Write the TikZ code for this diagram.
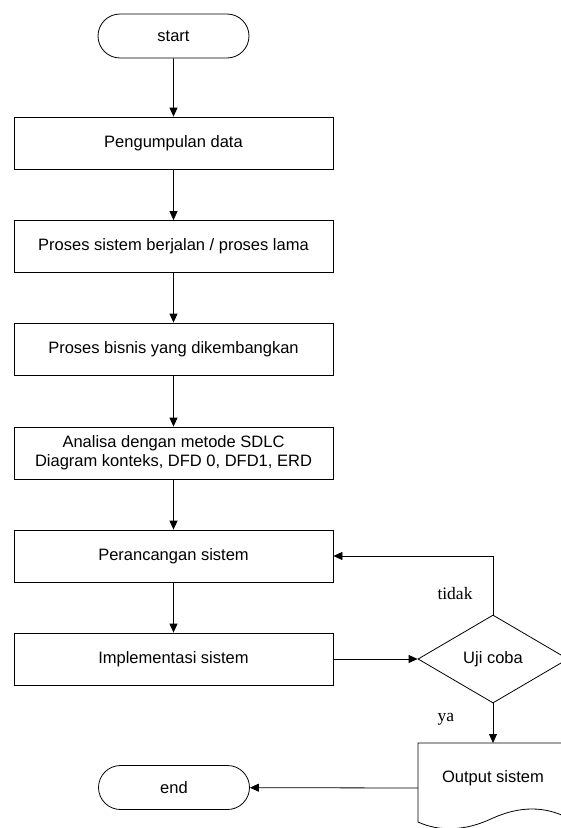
\documentclass[tikz,border=0pt]{standalone}
\usepackage{fontspec}
\setmainfont{Liberation Sans}
\newfontfamily\labelfont{Liberation Serif}
\usetikzlibrary{shapes.geometric,shapes.misc,arrows.meta}

\tikzset{
  flow/.style={draw=black, line width=0.8pt},
  procbox/.style={flow, rectangle, minimum width=319pt, minimum height=52pt,
                  inner sep=0pt, align=center, font=\fontsize{16.5}{19}\selectfont},
  terminal/.style={flow, rounded rectangle, minimum width=151pt, minimum height=44pt,
                   inner sep=0pt, font=\fontsize{16.5}{19}\selectfont},
  decision/.style={flow, diamond, minimum width=150pt, minimum height=88pt,
                   inner sep=0pt, font=\fontsize{16.5}{19}\selectfont},
  arrowline/.style={line width=0.8pt, -{Triangle[length=9pt,width=8pt]}},
  branchlabel/.style={font=\labelfont\fontsize{17.5}{20}\selectfont, inner sep=0pt},
}

\begin{document}
\begin{tikzpicture}[x=1pt, y=-1pt]
  \useasboundingbox (0,0) rectangle (561,828);
  \clip (0,0) rectangle (561,828);
  \fill[white] (0,0) rectangle (561,828);

  % main column
  \node[terminal] (start) at (173.5,36) {start};
  \node[procbox] (s1) at (173.5,143) {Pengumpulan data};
  \node[procbox] (s2) at (173.5,246.5) {Proses sistem berjalan / proses lama};
  \node[procbox] (s3) at (173.5,349) {Proses bisnis yang dikembangkan};
  \node[procbox] (s4) at (173.5,453) {Analisa dengan metode SDLC\\Diagram konteks, DFD 0, DFD1, ERD};
  \node[procbox] (s5) at (173.5,556) {Perancangan sistem};
  \node[procbox] (s6) at (173.5,659) {Implementasi sistem};

  % test decision
  \node[decision] (uji) at (493,659) {Uji coba};

  % output document
  \coordinate (outtop) at (493,743);
  \coordinate (outleft) at (418,788);
  \draw[flow] (418,743) -- (568,743) -- (568,818)
    .. controls (545,806) and (520,806) .. (493,818)
    .. controls (466,831) and (440,832) .. (418,822) -- cycle;
  \node[font=\fontsize{16.5}{19}\selectfont] (out) at (493,778) {Output sistem};

  % end terminal
  \node[terminal] (stop) at (174,787.5) {end};

  % connectors
  \draw[arrowline] (start) -- (s1);
  \draw[arrowline] (s1) -- (s2);
  \draw[arrowline] (s2) -- (s3);
  \draw[arrowline] (s3) -- (s4);
  \draw[arrowline] (s4) -- (s5);
  \draw[arrowline] (s5) -- (s6);
  \draw[arrowline] (s6) -- (uji);
  \draw[arrowline] (uji.north) |- (s5.east);
  \draw[arrowline] (uji.south) -- (outtop);
  \draw[arrowline] (outleft) -- (stop);

  % branch labels
  \node[branchlabel] (tidak) at (455,594) {tidak};
  \node[branchlabel] (ya) at (446,719) {ya};
\end{tikzpicture}
\end{document}
